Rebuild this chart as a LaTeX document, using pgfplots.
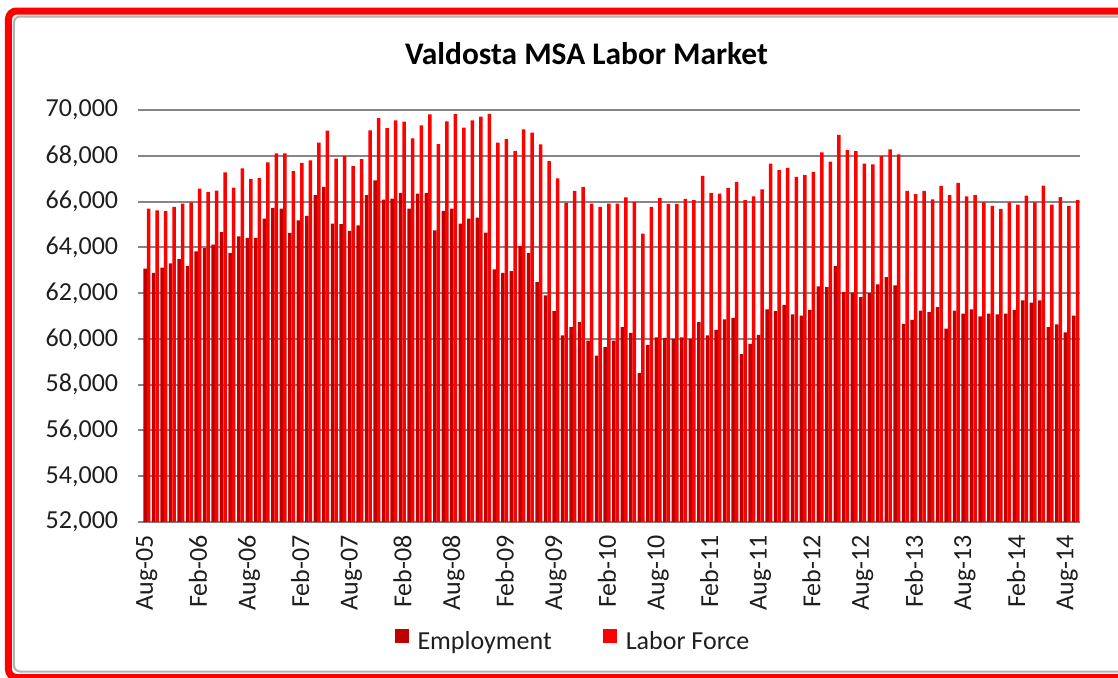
\documentclass[border=0pt]{standalone}
\usepackage{fontspec}
\setmainfont{Carlito}
\usepackage{pgfplots}
\pgfplotsset{compat=1.18}
\usepackage{pgfplotstable}

\definecolor{empcol}{RGB}{192,0,0}
\definecolor{lfcol}{RGB}{255,0,0}
\definecolor{gridcol}{RGB}{134,134,134}
\definecolor{txtcol}{RGB}{30,30,30}

\pgfplotstableread{
x emp lf
0 63070 65690
1 62880 65620
2 63110 65580
3 63300 65770
4 63490 65910
5 63180 65960
6 63820 66570
7 63970 66420
8 64120 66480
9 64670 67280
10 63750 66610
11 64480 67450
12 64410 66980
13 64410 67020
14 65260 67710
15 65720 68100
16 65690 68100
17 64630 67330
18 65180 67690
19 65370 67800
20 66280 68570
21 66640 69100
22 65040 67880
23 65010 67990
24 64720 67550
25 64960 67850
26 66280 69110
27 66930 69640
28 66090 69210
29 66130 69550
30 66380 69490
31 65690 68760
32 66350 69330
33 66380 69810
34 64740 68510
35 65590 69500
36 65690 69830
37 65040 69230
38 65260 69550
39 65300 69710
40 64640 69830
41 63040 68580
42 62890 68730
43 62960 68200
44 64060 69150
45 63750 69010
46 62480 68500
47 61900 67770
48 61210 67010
49 60150 65940
50 60510 66470
51 60730 66640
52 59930 65910
53 59270 65770
54 59640 65910
55 59930 65910
56 60510 66180
57 60260 65990
58 58500 64600
59 59740 65770
60 60070 66150
61 60040 65900
62 60000 65900
63 60070 66120
64 60000 66060
65 60730 67120
66 60150 66380
67 60390 66350
68 60850 66600
69 60920 66860
70 59340 66060
71 59780 66230
72 60180 66530
73 61290 67660
74 61210 67370
75 61490 67470
76 61070 67080
77 61020 67150
78 61270 67300
79 62290 68150
80 62260 67750
81 63180 68910
82 62040 68250
83 62020 68200
84 61830 67660
85 62000 67620
86 62380 68000
87 62700 68280
88 62340 68060
89 60660 66470
90 60830 66320
91 61240 66470
92 61170 66100
93 61390 66690
94 60450 66280
95 61240 66820
96 61100 66230
97 61290 66280
98 60980 65960
99 61100 65810
100 61070 65680
101 61100 65970
102 61270 65870
103 61680 66260
104 61580 65970
105 61680 66700
106 60510 65870
107 60630 66190
108 60290 65810
109 61020 66060
}\datatable

\begin{document}
\begin{tikzpicture}
\begin{axis}[
  scale only axis, width=468.75pt, height=206pt,
  at={(0pt,0pt)}, anchor=south west,
  xmin=-0.5, xmax=109.5, ymin=52000, ymax=70000,
  ytick={52000,54000,...,70000},
  xtick={0,6,...,108},
  xticklabels={Aug-05,Feb-06,Aug-06,Feb-07,Aug-07,Feb-08,Aug-08,Feb-09,Aug-09,Feb-10,Aug-10,Feb-11,Aug-11,Feb-12,Aug-12,Feb-13,Aug-13,Feb-14,Aug-14},
  ymajorgrids, major grid style={gridcol, line width=1pt},
  axis line style={draw=none},
  xtick style={draw=none},
  ytick style={gridcol, line width=1pt},
  major tick length=2pt, tick align=outside, ytick pos=left,
  scaled y ticks=false,
  /pgf/number format/1000 sep={,},
  /pgf/number format/assume math mode=true,
  tick label style={font=\fontsize{13}{15}\selectfont, text=txtcol},
  yticklabel style={anchor=east, inner sep=0pt, xshift=-10pt},
  xticklabel style={yshift=-4.5pt, rotate=90, anchor=east, inner sep=0pt},
  ybar, bar width=1.75pt,
  legend style={at={(0.4597,-0.291)}, anchor=center, draw=none, fill=none,
    legend columns=2, font=\fontsize{13}{15}\selectfont, text=txtcol,
    /tikz/every even column/.append style={column sep=24pt},
    /tikz/every odd column/.append style={column sep=3pt},
    nodes={inner sep=1.5pt}},
]
\addplot[fill=empcol, draw=none, bar shift=-0.88pt,
  legend image code/.code={\fill[empcol] (0pt,-0.5pt) rectangle (7pt,6.3pt);}]
  table[x=x, y=emp]{\datatable};
\addlegendentry{Employment}
\addplot[fill=lfcol, draw=none, bar shift=0.88pt,
  legend image code/.code={\fill[lfcol] (0pt,-0.5pt) rectangle (7pt,6.3pt);}]
  table[x=x, y=lf]{\datatable};
\addlegendentry{Labor Force}
\end{axis}
\node[font=\fontsize{15.7}{18}\selectfont\bfseries, anchor=base] at (222pt,229pt) {Valdosta MSA Labor Market};
\draw[gray!60, line width=1pt, rounded corners=3pt] (-64.25pt,-74.75pt) rectangle (500pt,252.75pt);
\draw[red, line width=3.5pt, rounded corners=4pt] (-67pt,-77.75pt) rectangle (500pt,255.5pt);
\pgfresetboundingbox
\path[use as bounding box] (-71.25pt,-77.5pt) rectangle (487.75pt,261pt);
\end{tikzpicture}
\end{document}
